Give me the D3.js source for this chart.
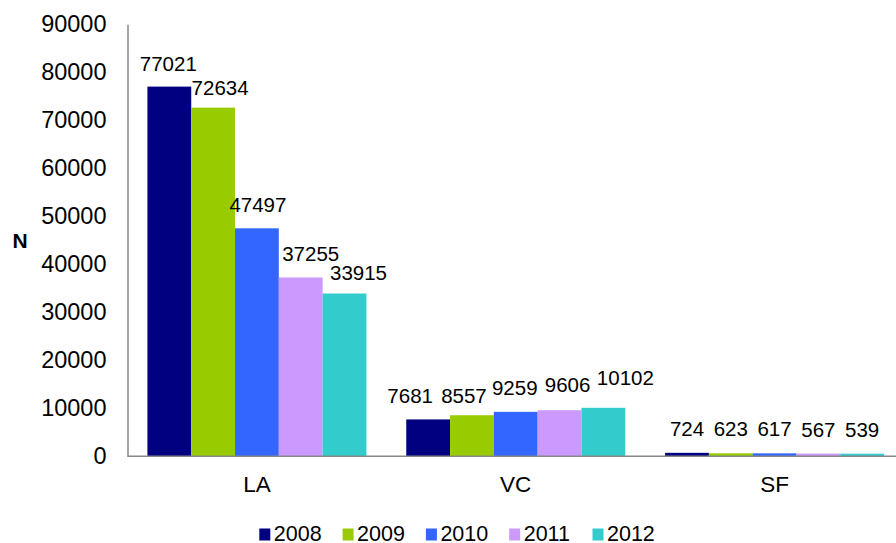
<!DOCTYPE html>
<html>
<head>
<meta charset="utf-8">
<script src="https://cdn.jsdelivr.net/npm/d3@7"></script>
<style>
  body { margin: 0; background: #fff; }
  svg { display: block; font-family: "Liberation Sans", Arial, sans-serif; }
</style>
</head>
<body>
<svg id="chart" width="896" height="543"></svg>
<script>
const categories = ["LA", "VC", "SF"];
const years = ["2008", "2009", "2010", "2011", "2012"];
const valuesLA = [77021, 72634, 47497, 37255, 33915];
const valuesVC = [7681, 8557, 9259, 9606, 10102];
const valuesSF = [724, 623, 617, 567, 539];
const yTicks = [0, 10000, 20000, 30000, 40000, 50000, 60000, 70000, 80000, 90000];
const colors = ["#000080", "#99cc00", "#3366ff", "#cc99ff", "#33cccc"];

// labels were dragged around a bit in the original, keep those nudges here
const labelDx = [[-1, 7, 1, 10, 14], [-18, -8, -1, 8, 22], [0, 0, 0, 0, 0]];
const labelGap = [[16, 13, 16, 16, 14], [16, 12, 17, 18, 23], [17, 17, 17, 17, 17]];

const seriesByCat = [valuesLA, valuesVC, valuesSF];

const svg = d3.select("#chart");
const plotLeft = 127.5, plotRight = 904, plotTop = 24.3, plotBottom = 456.3;

const x0 = d3.scaleBand().domain(categories).range([plotLeft, plotRight])
    .paddingInner(0.154).paddingOuter(0.077);
const x1 = d3.scaleBand().domain(years).range([0, x0.bandwidth()]);
const y = d3.scaleLinear().domain([0, 90000]).range([plotBottom, plotTop]);
const color = d3.scaleOrdinal().domain(years).range(colors);

const rows = [];
categories.forEach((c, ci) => {
    years.forEach((yr, si) => {
        rows.push({cat: c, year: yr, value: seriesByCat[ci][si], dx: labelDx[ci][si], gap: labelGap[ci][si]});
    });
});

// bars
svg.append("g")
    .selectAll("rect")
    .data(rows)
    .enter()
    .append("rect")
    .attr("x", d => x0(d.cat) + x1(d.year))
    .attr("y", d => y(d.value))
    .attr("width", x1.bandwidth())
    .attr("height", d => y(0) - y(d.value))
    .attr("fill", d => color(d.year));

// y axis
const yAxis = svg.append("g")
    .attr("transform", `translate(${plotLeft},0)`)
    .call(d3.axisLeft(y).tickValues(yTicks).tickSize(0).tickPadding(21).tickFormat(d3.format("d")));
yAxis.select(".domain").attr("stroke", "#888").attr("stroke-width", 1.5);
yAxis.selectAll("text")
    .attr("font-size", 23.5)
    .attr("fill", "#000")
    .attr("font-family", "Liberation Sans, Arial, sans-serif");

// x axis
svg.append("line")
    .attr("x1", plotLeft).attr("x2", 896)
    .attr("y1", plotBottom).attr("y2", plotBottom)
    .attr("stroke", "#888").attr("stroke-width", 1.5);

svg.append("g")
    .selectAll("text")
    .data(categories)
    .enter()
    .append("text")
    .attr("x", d => x0(d) + x0.bandwidth() / 2)
    .attr("y", 492)
    .attr("text-anchor", "middle")
    .attr("font-size", 22.5)
    .text(d => d);

// value labels
svg.append("g")
    .selectAll("text")
    .data(rows)
    .enter()
    .append("text")
    .attr("x", d => x0(d.cat) + x1(d.year) + x1.bandwidth() / 2 + d.dx)
    .attr("y", d => y(d.value) - d.gap)
    .attr("text-anchor", "middle")
    .attr("font-size", 20.5)
    .text(d => d.value);

// axis title
svg.append("text")
    .attr("x", 20)
    .attr("y", 248)
    .attr("text-anchor", "middle")
    .attr("font-size", 21)
    .attr("font-weight", "bold")
    .text("N");

// legend
const legend = svg.append("g")
    .selectAll("g")
    .data(years)
    .enter()
    .append("g")
    .attr("transform", (d, i) => `translate(${259.3 + i * 83.3},0)`);
legend.append("rect")
    .attr("x", 0).attr("y", 528.5)
    .attr("width", 11).attr("height", 12)
    .attr("fill", d => color(d));
legend.append("text")
    .attr("x", 14.5)
    .attr("y", 541)
    .attr("font-size", 21.5)
    .text(d => d);
</script>
</body>
</html>
